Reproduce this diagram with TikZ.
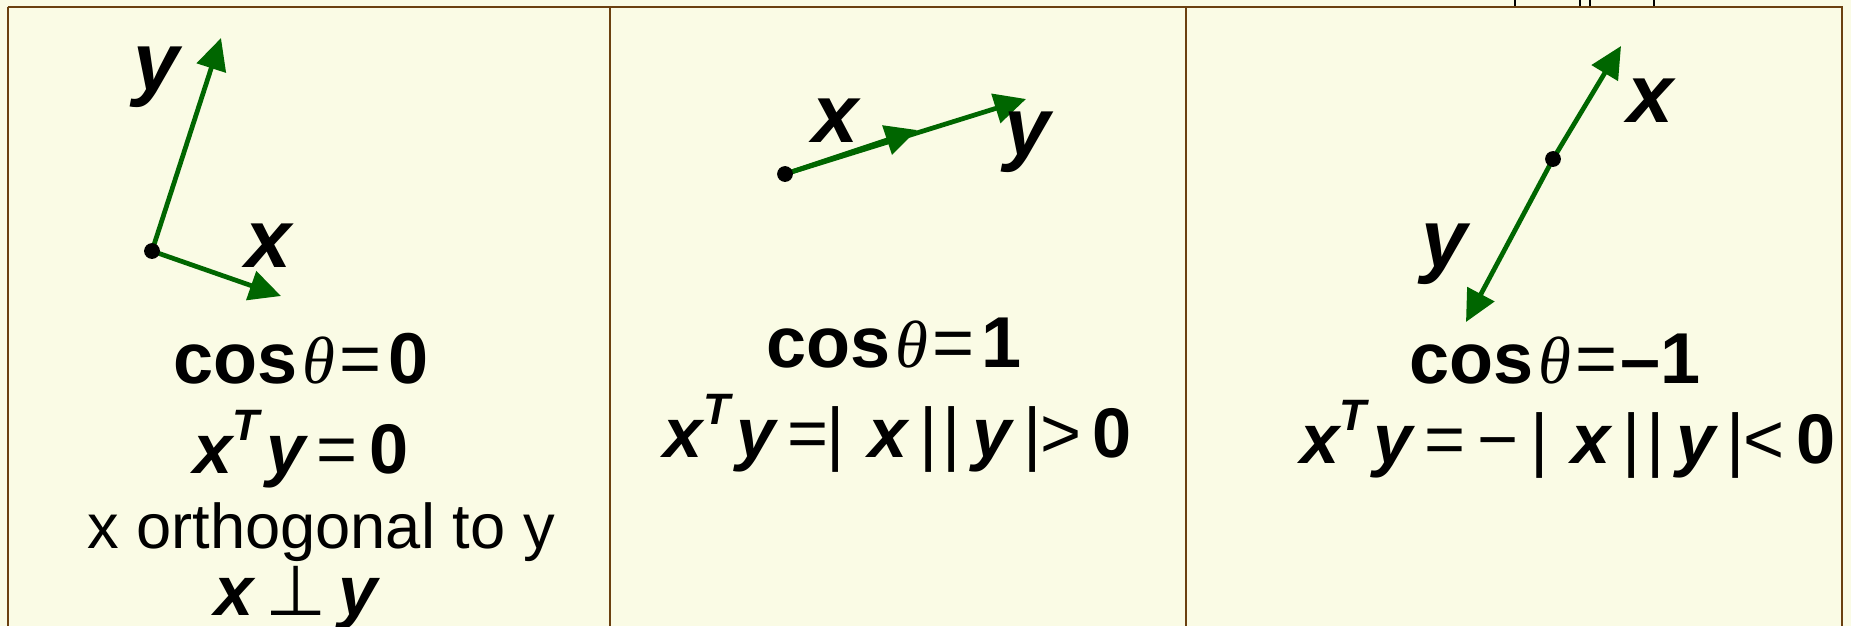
\documentclass[tikz,border=0pt]{standalone}
\usepackage{fontspec}
\setmainfont{Liberation Sans}
\newfontfamily\symfont{Liberation Serif}
\newfontfamily\djfont{DejaVu Sans}
\usetikzlibrary{arrows.meta}

\definecolor{cellbg}{HTML}{FAFBE5}
\definecolor{rulebrown}{HTML}{6B4010}
\definecolor{vecgreen}{HTML}{006600}

\newcommand{\bx}{{\bfseries\itshape x}}
\newcommand{\by}{{\bfseries\itshape y}}
\newcommand{\supT}{\raisebox{0.46em}{\fontsize{25}{25}\selectfont\bfseries\itshape T}\kern4pt}
\newcommand{\angth}{\kern3pt{\fontsize{38}{38}\selectfont\symfont\itshape\mdseries θ}}
\newcommand{\rel}[1]{{\mdseries #1}}

\tikzset{
  rule/.style={rulebrown,line width=1.1pt},
  vec/.style={vecgreen,line width=2.7pt,-{Triangle[length=18pt,width=17pt]}},
  dot/.style={circle,fill=black,inner sep=0pt,minimum size=9pt},
  lab/.style={anchor=base,inner sep=0pt,font=\fontsize{47}{47}\selectfont\bfseries\itshape},
  eqn/.style={anchor=base,inner sep=0pt,font=\fontsize{41}{41}\selectfont\bfseries},
  eqnb/.style={anchor=base,inner sep=0pt,font=\fontsize{40}{40}\selectfont\bfseries},
  note/.style={anchor=base,inner sep=0pt,font=\fontsize{36}{36}\selectfont}
}

\begin{document}
\begin{tikzpicture}[x=0.02cm,y=-0.02cm]
  \useasboundingbox (0,0) rectangle (1851,626);
  \fill[cellbg] (0,0) rectangle (1851,626);

  % table rules
  \draw[rule] (7.5,7) -- (1842.5,7);
  \foreach \xx in {8,610,1186,1842}
    \draw[rule] (\xx,6.5) -- (\xx,626);
  % bars of the row above
  \foreach \xx in {1515,1580,1590,1654}
    \draw[black,line width=1.5pt] (\xx,0) -- (\xx,6);

  % orthogonal
  \coordinate (o1) at (152,251);
  \coordinate (y1) at (221,38);
  \coordinate (x1) at (281,296);
  \draw[vec] (o1) -- (y1);
  \draw[vec] (o1) -- (x1);
  \node[dot] (d1) at (o1) {};
  \node[lab] (ly1) at (156,90) {y};
  \node[lab] (lx1) at (268,267) {x};
  \node[eqn] (c1) at (301,383) {cos\angth\rel{\kern2pt=\kern4pt}0};
  \node[eqnb] (p1) at (301,473) {\bx\supT\by\,\rel{=}\,0};
  \node[note] (n1) at (321,548) {x orthogonal to y};
  \node[eqnb] (q1) at (296,615) {\bx\,{\djfont\mdseries ⊥}\,\by};

  % parallel
  \coordinate (o2) at (785,174);
  \coordinate (x2) at (917,130);
  \coordinate (y2) at (1026,99);
  \draw[vec] (o2) -- (y2);
  \draw[vec] (o2) -- (x2);
  \node[dot] (d2) at (o2) {};
  \node[lab] (lx2) at (835,142) {x};
  \node[lab] (ly2) at (1027,155) {y};
  \node[eqn] (c2) at (894,367) {cos\angth\rel{\kern2pt=\kern4pt}1};
  \node[eqnb] (p2) at (898,457)
    {\bx\supT\by\,\rel{=\kern-1pt|\,\,}\bx\rel{\,|\kern3pt|\,}\by\rel{\,|\kern-1pt>\,}0};

  % opposite
  \coordinate (o3) at (1553,159);
  \coordinate (x3) at (1621,46);
  \coordinate (y3) at (1466,322);
  \draw[vec] (o3) -- (x3);
  \draw[vec] (o3) -- (y3);
  \node[dot] (d3) at (o3) {};
  \node[lab] (lx3) at (1650,122) {x};
  \node[lab] (ly3) at (1444,267) {y};
  \node[eqn] (c3) at (1555,383) {cos\angth\rel{\kern2pt=\kern2pt}\textendash1};
  \node[eqnb] (p3) at (1568,463)
    {\bx\supT\by\,\rel{=\,−\,|\,\,}\bx\rel{\,|\kern3pt|\,}\by\rel{\,|\kern-1pt<\,}0};
\end{tikzpicture}
\end{document}
